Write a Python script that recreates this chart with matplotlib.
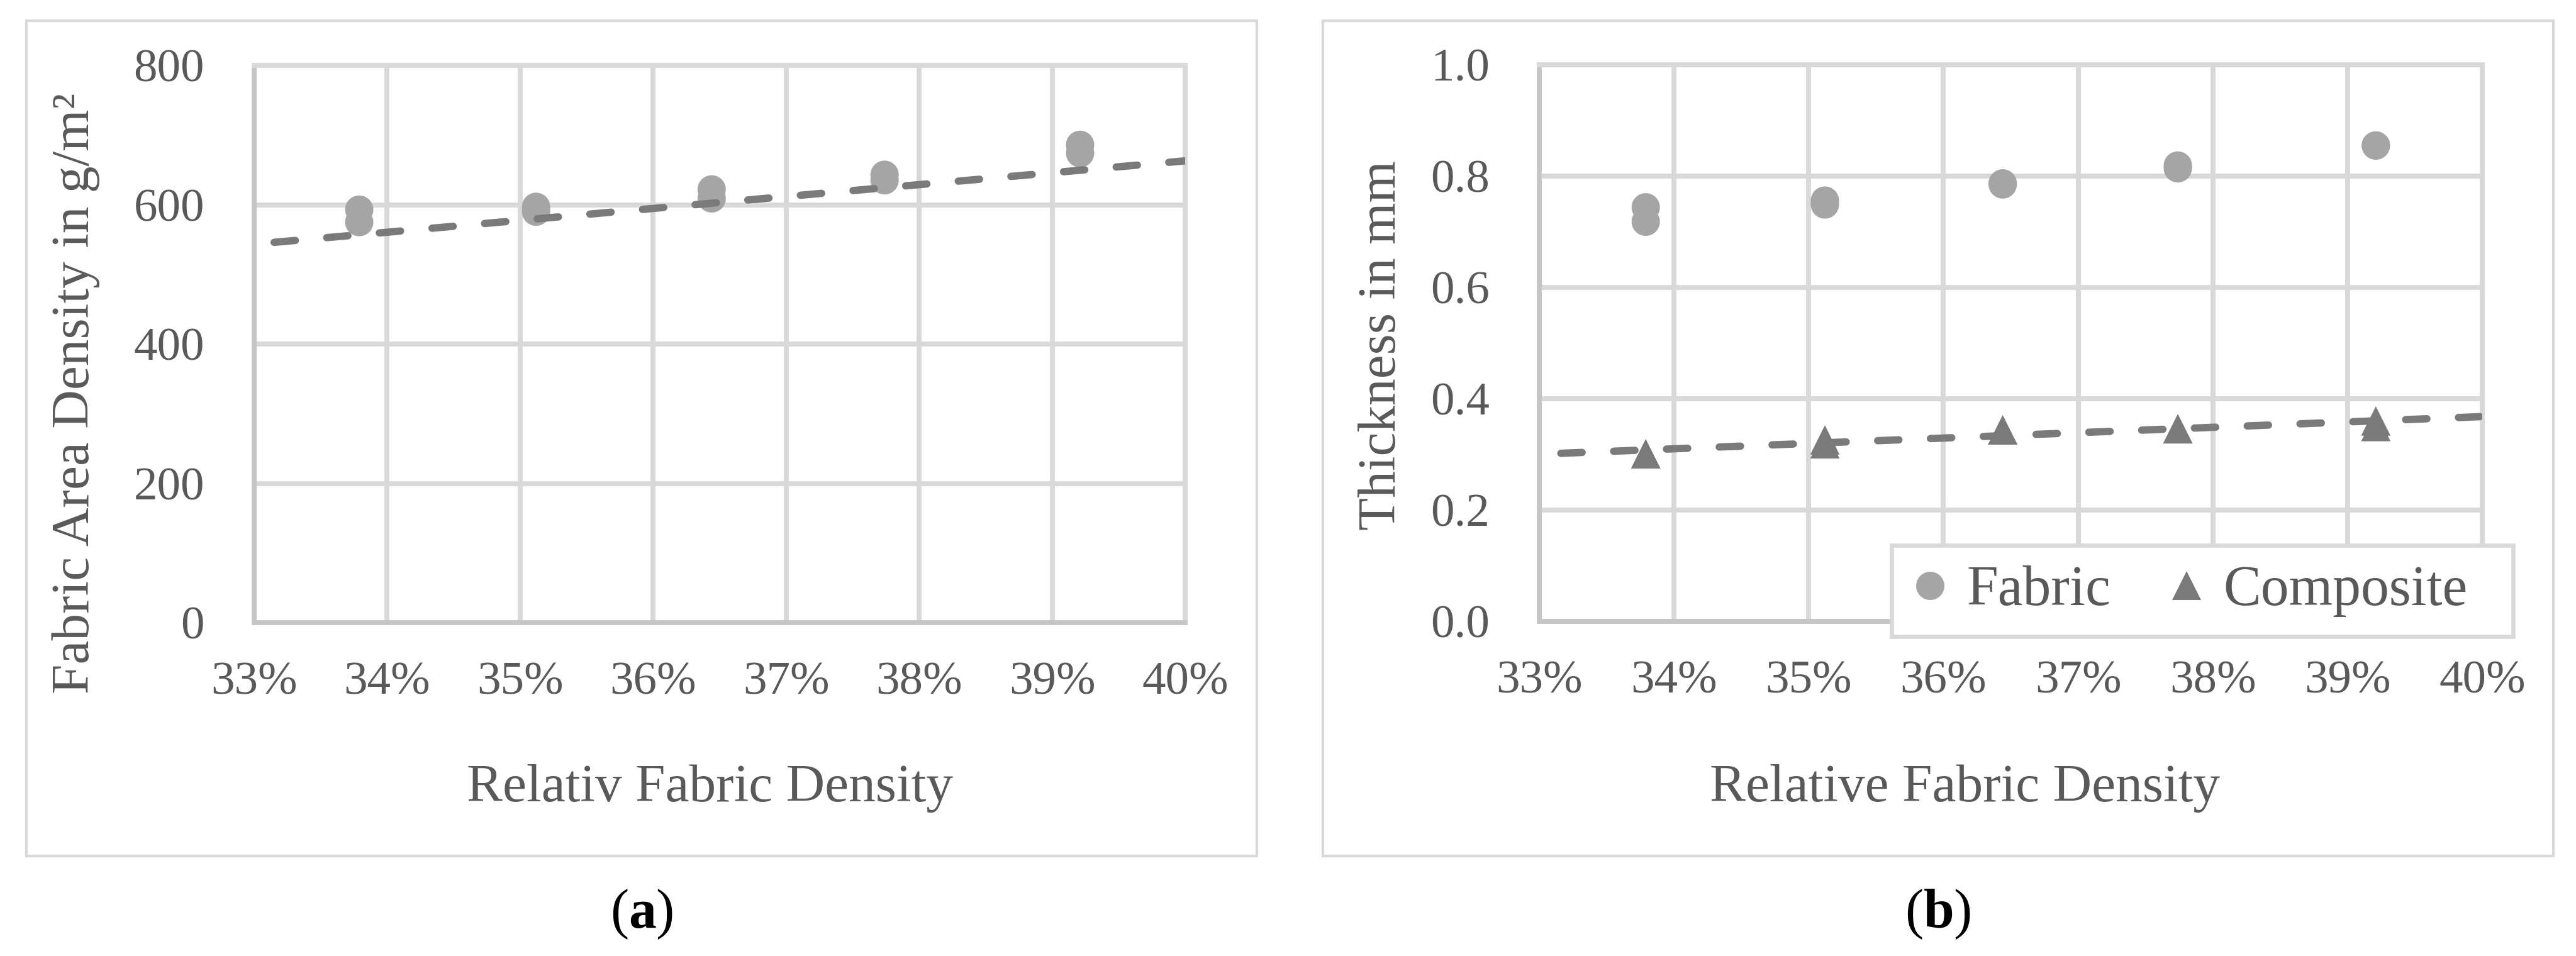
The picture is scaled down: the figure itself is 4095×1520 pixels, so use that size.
import numpy as np
import matplotlib
matplotlib.use("Agg")
import matplotlib.pyplot as plt
from matplotlib.ticker import PercentFormatter, FixedLocator, FormatStrFormatter
from matplotlib.patches import Rectangle
from matplotlib.lines import Line2D

plt.rcParams['font.family'] = ['Liberation Serif', 'DejaVu Serif']
plt.rcParams['mathtext.fontset'] = 'custom'
plt.rcParams['mathtext.rm'] = 'Liberation Serif'
plt.rcParams['mathtext.bf'] = 'Liberation Serif:bold'

# ---------------- data ----------------
density = [0.3379, 0.3379, 0.3512, 0.3512, 0.3644, 0.3644, 0.3774, 0.3774, 0.3921, 0.3921]
area_density = [593, 575, 597, 590, 622, 609, 643, 635, 686, 674]
fabric_thickness = [0.744, 0.718, 0.756, 0.749, 0.787, 0.785, 0.819, 0.814, 0.855, 0.855]
composite_thickness = [0.301, 0.301, 0.326, 0.319, 0.344, 0.344, 0.346, 0.346, 0.360, 0.350]

trend_a_x = [0.3315, 0.400]
trend_a_y = [546, 663]
trend_b_x = [0.3316, 0.400]
trend_b_y = [0.302, 0.368]

x_ticks = [0.33, 0.34, 0.35, 0.36, 0.37, 0.38, 0.39, 0.40]
a_yticks = [0, 200, 400, 600, 800]
b_yticks = [0.0, 0.2, 0.4, 0.6, 0.8, 1.0]

xlabel_a = "Relativ Fabric Density"
xlabel_b = "Relative Fabric Density"
ylabel_a = "Fabric Area Density in g/m\u00b2"
ylabel_b = "Thickness in mm"
legend_labels = ["Fabric", "Composite"]

# ---------------- style ----------------
TXT = '#595959'
GRID = '#d9d9d9'
AXC = '#c6c6c6'
C_FAB = '#a5a5a5'
C_COMP = '#7a7a7a'
C_TREND = '#7a7a7a'
TICK_FS = 18
LAB_FS = 20.5
LEG_FS = 21.5
MS = 10.8

W, H = 4095, 1520
fig = plt.figure(figsize=(W / 300, H / 300), dpi=300)

def fx(px):
    return px / W

def fy(py):
    return 1 - py / H

# chart-area boxes
for (x0, x1) in [(42, 1998), (2103, 4059)]:
    fig.patches.append(Rectangle((fx(x0), fy(1361)), fx(x1) - fx(x0), fy(33) - fy(1361),
                                 transform=fig.transFigure, fill=False,
                                 edgecolor=GRID, lw=1.0, zorder=-1))

ax_a = fig.add_axes([fx(404), fy(990), fx(1884) - fx(404), fy(104) - fy(990)])
ax_b = fig.add_axes([fx(2447), fy(988), fx(3946) - fx(2447), fy(103) - fy(988)])


def style_axes(ax):
    ax.set_axisbelow(True)
    ax.grid(True, color=GRID, lw=1.9)
    for s in ['top', 'right']:
        ax.spines[s].set_color(GRID)
        ax.spines[s].set_linewidth(1.9)
    for s in ['left', 'bottom']:
        ax.spines[s].set_color(AXC)
        ax.spines[s].set_linewidth(1.9)
    ax.xaxis.set_major_locator(FixedLocator(x_ticks))
    ax.xaxis.set_major_formatter(PercentFormatter(xmax=1, decimals=0))
    ax.set_xlim(0.33, 0.40)
    ax.tick_params(axis='both', length=0, labelsize=TICK_FS, labelcolor=TXT)
    ax.tick_params(axis='x', pad=15)
    ax.tick_params(axis='y', pad=19)


# ---------------- panel a ----------------
style_axes(ax_a)
ax_a.set_ylim(0, 800)
ax_a.yaxis.set_major_locator(FixedLocator(a_yticks))
ax_a.scatter(density, area_density, s=MS ** 2, marker='o', color=C_FAB,
             edgecolors='none', zorder=3, clip_on=False)
ax_a.plot(trend_a_x, trend_a_y, color=C_TREND, lw=2.8, dashes=(2.9, 4.3),
          dash_capstyle='round', zorder=4)
ax_a.set_xlabel(xlabel_a, fontsize=LAB_FS, color=TXT, va='baseline', ha='center')
ax_a.xaxis.set_label_coords(0.4899, (990 - 1274) / 885)
ax_a.set_ylabel(ylabel_a, fontsize=LAB_FS, color=TXT, va='baseline', ha='center')
ax_a.yaxis.set_label_coords((141 - 404) / 1480, (990 - 625) / 886)

# ---------------- panel b ----------------
style_axes(ax_b)
ax_b.set_ylim(0, 1.0)
ax_b.yaxis.set_major_locator(FixedLocator(b_yticks))
ax_b.yaxis.set_major_formatter(FormatStrFormatter('%.1f'))
ax_b.scatter(density, fabric_thickness, s=MS ** 2, marker='o', color=C_FAB,
             edgecolors='none', zorder=3, clip_on=False)
ax_b.scatter(density, composite_thickness, s=(MS + 0.4) ** 2, marker='^', color=C_COMP,
             edgecolors='none', zorder=3, clip_on=False)
ax_b.plot(trend_b_x, trend_b_y, color=C_TREND, lw=2.8, dashes=(2.9, 4.3),
          dash_capstyle='round', zorder=4)
ax_b.set_xlabel(xlabel_b, fontsize=LAB_FS, color=TXT, va='baseline', ha='center')
ax_b.xaxis.set_label_coords((3124 - 2447) / 1499, (988 - 1274) / 885)
ax_b.set_ylabel(ylabel_b, fontsize=LAB_FS, color=TXT, va='baseline', ha='center')
ax_b.yaxis.set_label_coords((2218 - 2447) / 1499, (988 - 549) / 885)

# legend frame (white box over the plot area)
fig.patches.append(Rectangle((fx(3007), fy(1012)), fx(3995) - fx(3007), fy(867) - fy(1012),
                             transform=fig.transFigure, facecolor='white',
                             edgecolor=GRID, lw=1.6, zorder=3))
handles = [Line2D([], [], ls='none', marker='o', color=C_FAB, markersize=MS, markeredgewidth=0),
           Line2D([], [], ls='none', marker='^', color=C_COMP, markersize=MS + 0.4, markeredgewidth=0)]
fig.legend(handles, legend_labels, loc='center', bbox_to_anchor=(fx(3482), fy(940)),
           ncol=2, frameon=False, fontsize=LEG_FS, labelcolor=TXT,
           handlelength=0.6, handletextpad=0.35, columnspacing=1.05,
           borderpad=0.0, borderaxespad=0.0)

# panel captions
fig.text(fx(1020), fy(1475), r'($\mathbf{a}$)', fontsize=21, color='black',
         ha='center', va='baseline')
fig.text(fx(3081), fy(1475), r'($\mathbf{b}$)', fontsize=21, color='black',
         ha='center', va='baseline')

fig.savefig('out.png', dpi=300, facecolor='white')
